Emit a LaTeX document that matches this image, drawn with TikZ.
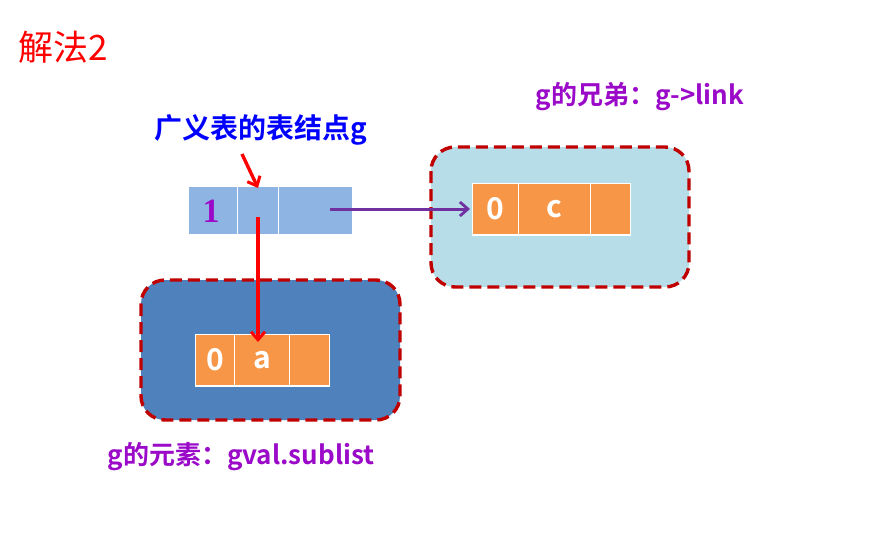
\documentclass[tikz,border=0pt]{standalone}
\usepackage{fontspec}
\setmainfont{Noto Sans CJK SC}
\newfontfamily\cjkb{Noto Sans CJK SC Bold}
\usetikzlibrary{arrows.meta}
\definecolor{lblue}{HTML}{8EB4E3}
\definecolor{sky}{HTML}{B7DEE8}
\definecolor{steel}{HTML}{4F81BD}
\definecolor{orng}{HTML}{F79646}
\definecolor{dred}{HTML}{C00000}
\definecolor{purp}{HTML}{9A0AC8}
\definecolor{arrp}{HTML}{7030A0}
\definecolor{bblue}{HTML}{0000FF}
\begin{document}
\begin{tikzpicture}[x=1pt,y=-1pt,
  group/.style={draw=dred,line width=3.4pt,dash pattern=on 12pt off 6pt,rounded corners=24pt},
  cellb/.style={fill=lblue,draw=white,line width=1.2pt},
  cello/.style={fill=orng,draw=white,line width=1.2pt},
  ctext/.style={text=white,font=\cjkb\fontsize{30}{30}\selectfont},
  lab/.style={text=purp,font=\cjkb\fontsize{26}{26}\selectfont},
  redarr/.style={draw=red,line width=3.4pt,-{Straight Barb[length=8pt,width=14pt,line width=3pt]}},
  purarr/.style={draw=arrp,line width=3pt,-{Straight Barb[length=8pt,width=14pt,line width=2.8pt]}}]
\useasboundingbox (0,0) rectangle (885,549);
\fill[white] (0,0) rectangle (885,549);
% title
\node[text=red,font=\fontsize{35}{35}\selectfont] (title) at (63,47) {解法2};
\node[text=bblue,font=\cjkb\fontsize{28}{28}\selectfont] (head) at (261,130) {广义表的表结点g};
% group boxes
\draw[group,fill=sky] (431,147) rectangle (689,287);
\draw[group,fill=steel] (141,280) rectangle (400,420);
% top node
\node[cellb,minimum width=49pt,minimum height=48pt,anchor=north west,inner sep=0] (t1) at (188,186) {};
\node[cellb,minimum width=41pt,minimum height=48pt,anchor=north west,inner sep=0] (t2) at (237,186) {};
\node[cellb,minimum width=74pt,minimum height=48pt,anchor=north west,inner sep=0] (t3) at (278,186) {};
\node[text=purp,font=\fontspec{Liberation Serif}\bfseries\fontsize{34}{34}\selectfont] at ([xshift=-2pt,yshift=-1pt]t1.center) {1};
% right orange node
\node[cello,minimum width=46pt,minimum height=51pt,anchor=north west,inner sep=0] (c1) at (472,183) {};
\node[cello,minimum width=72pt,minimum height=51pt,anchor=north west,inner sep=0] (c2) at (518,183) {};
\node[cello,minimum width=40pt,minimum height=51pt,anchor=north west,inner sep=0] (c3) at (590,183) {};
\draw[white,line width=2.4pt] (c1.south west) -- (c3.south east);
\node[ctext] at (c1.center) {0};
\node[ctext] at (c2.center) {c};
% left orange node
\node[cello,minimum width=39pt,minimum height=51pt,anchor=north west,inner sep=0] (a1) at (195,334) {};
\node[cello,minimum width=55pt,minimum height=51pt,anchor=north west,inner sep=0] (a2) at (234,334) {};
\node[cello,minimum width=40pt,minimum height=51pt,anchor=north west,inner sep=0] (a3) at (289,334) {};
\draw[white,line width=2.4pt] (a1.south west) -- (a3.south east);
\node[ctext] at (a1.center) {0};
\node[ctext] at (a2.center) {a};
% arrows
\coordinate (hs) at (242,154);
\draw[redarr] (hs) -- ([yshift=-2pt]t2.north -| 258,0);
\coordinate (ds) at (258,217);
\draw[redarr] (ds) -- ([yshift=-8pt]a2.north -| 258,0);
\coordinate (ps) at (330,209);
\draw[purarr] (ps) -- ([xshift=-2pt]c1.west |- ps);
% labels
\node[lab] (l1) at (640,97) {g的兄弟：g->link};
\node[lab] (l2) at (241,457) {g的元素：gval.sublist};
\end{tikzpicture}
\end{document}
